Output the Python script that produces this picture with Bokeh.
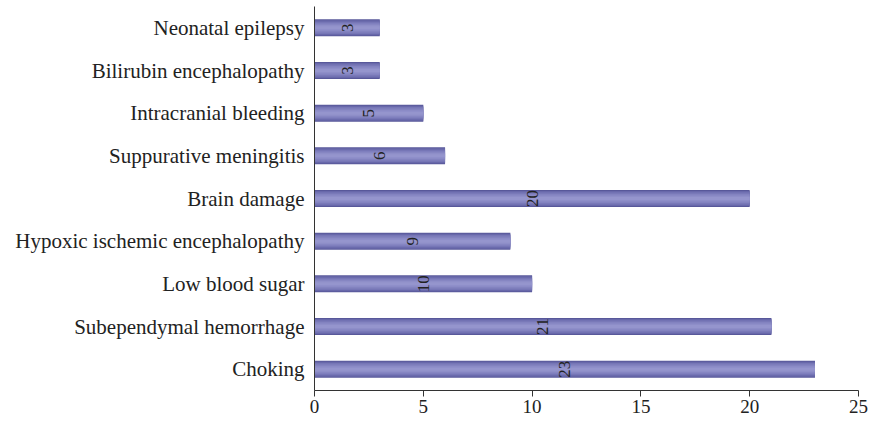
from bokeh.plotting import figure
from bokeh.models import ColumnDataSource, Range1d, FactorRange, FixedTicker
from bokeh.core.properties import value
from bokeh.embed import file_html
from bokeh.resources import INLINE

categories = ["Choking", "Subependymal hemorrhage", "Low blood sugar",
              "Hypoxic ischemic encephalopathy", "Brain damage",
              "Suppurative meningitis", "Intracranial bleeding",
              "Bilirubin encephalopathy", "Neonatal epilepsy"]
counts = [23, 21, 10, 9, 20, 6, 5, 3, 3]
x_ticks = [0, 5, 10, 15, 20, 25]

FONT = "Liberation Serif"

src = ColumnDataSource(dict(cat=categories, val=counts,
                            mid=[v / 2 for v in counts],
                            lab=[str(v) for v in counts]))

p = figure(width=868, height=415, output_backend="svg", toolbar_location=None,
           y_range=FactorRange(factors=categories, range_padding=0),
           x_range=Range1d(0, 25),
           min_border_left=314, min_border_right=10, min_border_top=6,
           min_border_bottom=24)
p.outline_line_color = None
p.grid.grid_line_color = None
p.background_fill_color = "white"

# bar with simulated vertical gradient (dark edges, light centre)
layers = [(0.40, "#58589a"), (0.35, "#6868aa"), (0.29, "#7676b6"),
          (0.22, "#8383c0"), (0.14, "#8e8ec8"), (0.07, "#9595cd")]
for h, c in layers:
    p.hbar(y="cat", right="val", left=0, height=h, source=src,
           fill_color=c, line_color=None)

p.text(x="mid", y="cat", text="lab", source=src, angle=1.5708,
       text_align="center", text_baseline="middle",
       text_font=value(FONT), text_font_size="17px", text_color="#222222")

xa = p.xaxis[0]
xa.ticker = FixedTicker(ticks=x_ticks)
xa.major_tick_out = 6
xa.major_tick_in = 0
xa.minor_tick_line_color = None
xa.axis_line_color = "#333333"
xa.major_tick_line_color = "#333333"
xa.major_label_text_font = FONT
xa.major_label_text_font_size = "19px"
xa.major_label_text_color = "#222222"
xa.major_label_standoff = 3

ya = p.yaxis[0]
ya.major_tick_out = 0
ya.major_tick_in = 0
ya.minor_tick_line_color = None
ya.axis_line_color = "#333333"
ya.major_label_text_font = FONT
ya.major_label_text_font_size = "21px"
ya.major_label_text_color = "#222222"
ya.major_label_standoff = 10

open("out.html", "w").write(file_html(p, INLINE))
